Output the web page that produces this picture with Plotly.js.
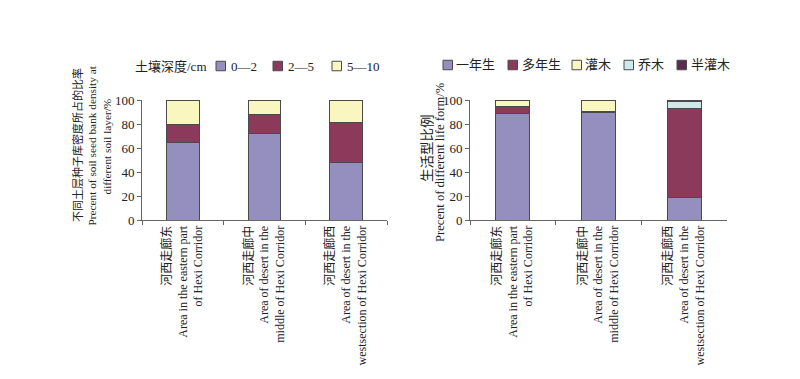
<!DOCTYPE html>
<html><head><meta charset="utf-8">
<script src="https://cdn.plot.ly/plotly-3.0.1.min.js"></script>
<style>body{margin:0;background:#fff}#chart{width:800px;height:379px}</style>
</head><body><div id="chart"></div>
<script>
const regions = [
  "河西走廊东<br>Area in the eastern part<br>of Hexi Corridor",
  "河西走廊中<br>Area of desert in the<br>middle of Hexi Corridor",
  "河西走廊西<br>Area of desert in the<br>westsection of Hexi Corridor"
];
// Left chart: soil depth layers
const depthTitle = "土壤深度/cm";
const depthNames = ["0—2", "2—5", "5—10"];
const depth0_2 = [65, 72, 48];
const depth2_5 = [15, 16, 33];
const depth5_10 = [20, 12, 19];
const leftYTitle = ["不同土层种子库密度所占的比率", "Precent of soil seed bank density at", "different soil layer/%"];
// Right chart: life forms
const lifeNames = ["一年生", "多年生", "灌木", "乔木", "半灌木"];
const annual = [89, 89.5, 19];
const perennial = [6, 1, 74];
const shrub = [5, 9.5, 0];
const tree = [0, 0, 6];
const semiShrub = [0, 0, 1];
const rightYTitle = ["生活型比例", "Precent of different life form/%"];

const colors = ["#948fbf", "#8c3a5c", "#f9f6bf", "#cdeaea", "#5a2a50"];
const edgeColor = "#4a4a4a";
const edge = {color: edgeColor, width: 1};
const F = "Liberation Serif, 'Times New Roman', 'Noto Sans CJK SC', serif";
const FC = "'Noto Sans CJK SC', 'Liberation Serif', serif";
const W = 800, H = 379;
const px = v => v / W, py = v => 1 - v / H;

const traces = [];
[depth0_2, depth2_5, depth5_10].forEach((v, i) => traces.push({
  type: "bar", x: regions, y: v, name: depthNames[i], xaxis: "x", yaxis: "y",
  marker: {color: colors[i], line: edge}, width: 0.4, showlegend: false
}));
[annual, perennial, shrub, tree, semiShrub].forEach((v, i) => traces.push({
  type: "bar", x: regions, y: v, name: lifeNames[i], xaxis: "x2", yaxis: "y2",
  marker: {color: colors[i], line: edge}, width: 0.4, showlegend: false
}));

// custom legends (layout positions in px)
const shapes = [], annotations = [];
function legendItems(names, boxLeft, textLeft, cy) {
  names.forEach((n, i) => {
    shapes.push({type: "rect", xref: "paper", yref: "paper",
      x0: px(boxLeft[i]), x1: px(boxLeft[i] + 9.5), y0: py(cy - 4.75), y1: py(cy + 4.75),
      fillcolor: colors[i], line: {color: edgeColor, width: 1}});
    annotations.push({xref: "paper", yref: "paper", x: px(textLeft[i]), y: py(cy),
      xanchor: "left", yanchor: "middle", showarrow: false, text: n,
      font: {family: F, size: 13, color: "#222"}, borderpad: 0});
  });
}
annotations.push({xref: "paper", yref: "paper", x: px(134), y: py(66), xanchor: "left", yanchor: "middle",
  showarrow: false, text: depthTitle, font: {family: F, size: 13, color: "#222"}, borderpad: 0});
legendItems(depthNames, [216, 273, 332], [230, 287, 346], 66);
legendItems(lifeNames, [443, 508, 572, 624, 677], [455, 521, 584, 637, 690], 65);

function vtitle(text, x, y, size, fam) {
  annotations.push({xref: "paper", yref: "paper", x: px(x), y: py(y), xanchor: "center", yanchor: "middle",
    textangle: -90, showarrow: false, text: text, borderpad: 0,
    font: {family: fam, size: size, color: "#222"}});
}
vtitle(leftYTitle[0], 77, 145, 11, FC);
vtitle(leftYTitle[1], 92, 145.5, 11.3, F);
vtitle(leftYTitle[2], 106, 146.5, 11.3, F);
vtitle(rightYTitle[0], 426, 148, 13.5, FC);
vtitle(rightYTitle[1], 440, 162, 12.6, F);

const xa = {type: "category", tickson: "boundaries", ticks: "outside", ticklen: 4,
  tickcolor: "#666", showline: true, linecolor: "#666", linewidth: 1,
  tickangle: -90, tickfont: {family: F, size: 12, color: "#222"}, showgrid: false, fixedrange: true};
const ya = {range: [0, 100], dtick: 20, ticks: "outside", ticklen: 4, tickcolor: "#666",
  showline: true, linecolor: "#666", linewidth: 1, showgrid: false, zeroline: false,
  tickfont: {family: F, size: 13, color: "#222"}};

const layout = {
  width: W, height: H, margin: {l: 0, r: 0, t: 0, b: 0},
  paper_bgcolor: "#fff", plot_bgcolor: "#fff", barmode: "stack", showlegend: false,
  font: {family: F, color: "#222"},
  xaxis: Object.assign({}, xa, {domain: [px(142), px(387)], anchor: "y"}),
  yaxis: Object.assign({}, ya, {domain: [py(220), py(100)], anchor: "x"}),
  xaxis2: Object.assign({}, xa, {domain: [px(470), px(727)], anchor: "y2"}),
  yaxis2: Object.assign({}, ya, {domain: [py(220), py(100)], anchor: "x2"}),
  shapes: shapes, annotations: annotations
};
Plotly.newPlot("chart", traces, layout, {displayModeBar: false, staticPlot: true});
</script></body></html>
